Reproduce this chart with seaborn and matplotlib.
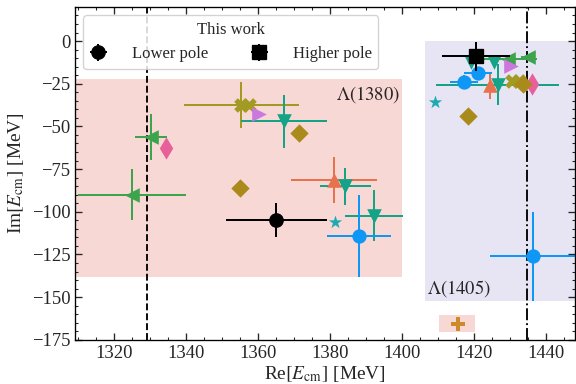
import numpy as np
import pandas as pd
import matplotlib
matplotlib.use("Agg")
import matplotlib.pyplot as plt
from matplotlib.patches import Rectangle
import seaborn as sns

# ---- data ----
# This work
lower_pole = dict(re=1365.0, im=-105.0, xerr=14.0, yerr=10.0)
higher_pole = dict(re=1420.5, im=-9.0, xerr=9.5, yerr=8.5)

# other determinations: (Re, Im, xerr, yerr)
green_re = [1325.0, 1330.2, 1429.5, 1435.0]
green_im = [-90.0, -56.0, -10.5, -9.5]
green_xe = [15.0, 4.5, 8.0, 2.0]
green_ye = [15.0, 13.5, 0.0, 1.5]

pink_re = [1334.2, 1436.2]
pink_im = [-62.5, -25.3]

olive_re = [1355.2, 1357.5, 1430.6, 1432.5]
olive_im = [-37.5, -37.5, -23.3, -23.3]
olive_xe = [16.0, 0.0, 0.0, 0.0]
olive_ye = [13.7, 0.0, 0.0, 0.0]

gold_re = [1355.0, 1371.2, 1418.3, 1433.7]
gold_im = [-86.0, -53.7, -43.9, -25.3]

purple_re = [1360.1, 1430.2]
purple_im = [-42.9, -14.5]

teal_re = [1367.2, 1384.2, 1392.2, 1419.1, 1425.4, 1426.5]
teal_im = [-47.0, -85.0, -102.2, -12.5, -12.0, -25.5]
teal_xe = [12.0, 7.0, 8.0, 0.0, 0.0, 17.0]
teal_ye = [15.6, 10.8, 15.0, 0.0, 0.0, 12.0]

red_re = [1381.0, 1424.4]
red_im = [-81.5, -26.0]
red_xe = [12.0, 0.0]
red_ye = [13.5, 8.0]

blue_re = [1388.0, 1421.1, 1417.2, 1436.4]
blue_im = [-114.0, -19.0, -23.9, -126.0]
blue_xe = [9.0, 4.0, 4.0, 12.0]
blue_ye = [24.0, 4.0, 4.0, 26.0]

cyan_re = [1381.2, 1409.2]
cyan_im = [-105.7, -35.7]

orange_re = [1415.6]
orange_im = [-166.0]
orange_box = [1410.3, 1420.3, -170.4, -160.2]

lam1380_box = [1300.0, 1400.0, -138.0, -22.0]
lam1405_box = [1406.4, 1460.0, -152.0, 0.0]
pi_sigma_thr = 1329.0
kbar_n_thr = 1434.6

# ---- style ----
sns.set_theme(style="ticks")
plt.rcParams["font.family"] = ["Liberation Serif", "DejaVu Serif"]
plt.rcParams["mathtext.fontset"] = "stix"
plt.rcParams["xtick.direction"] = "in"
plt.rcParams["ytick.direction"] = "in"
plt.rcParams["xtick.top"] = True
plt.rcParams["ytick.right"] = True
plt.rcParams["xtick.minor.visible"] = True
plt.rcParams["ytick.minor.visible"] = True

fig = plt.figure(figsize=(6, 4), dpi=96)
ax = fig.add_axes([0.130, 0.115, 0.868, 0.867])

# regions
ax.add_patch(Rectangle((lam1380_box[0], lam1380_box[2]), lam1380_box[1] - lam1380_box[0],
                       lam1380_box[3] - lam1380_box[2], color="#f8d8d4", lw=0, zorder=0))
ax.add_patch(Rectangle((lam1405_box[0], lam1405_box[2]), lam1405_box[1] - lam1405_box[0],
                       lam1405_box[3] - lam1405_box[2], color="#e7e5f4", lw=0, zorder=0))
ax.add_patch(Rectangle((orange_box[0], orange_box[2]), orange_box[1] - orange_box[0],
                       orange_box[3] - orange_box[2], color="#f8d8d4", lw=0, zorder=0))

ax.axvline(pi_sigma_thr, color="black", ls="--", lw=1.4, zorder=1)
ax.axvline(kbar_n_thr, color="black", ls="-.", lw=1.4, zorder=1)

groups = [
    (green_re, green_im, green_xe, green_ye, "#3da34d", "<", 120),
    (pink_re, pink_im, None, None, "#e8609a", "d", 140),
    (olive_re, olive_im, olive_xe, olive_ye, "#a29a22", "X", 120),
    (gold_re, gold_im, None, None, "#a98a1b", "D", 95),
    (purple_re, purple_im, None, None, "#cc77dd", ">", 120),
    (teal_re, teal_im, teal_xe, teal_ye, "#14a386", "v", 120),
    (red_re, red_im, red_xe, red_ye, "#e6734e", "^", 120),
    (blue_re, blue_im, blue_xe, blue_ye, "#0f97f5", "o", 115),
    (cyan_re, cyan_im, None, None, "#1eaab2", "*", 110),
    (orange_re, orange_im, None, None, "#cd8a2b", "P", 100),
]

for re_, im_, xe, ye, col, mk, s in groups:
    df = pd.DataFrame({"re": re_, "im": im_})
    if xe is not None:
        ax.errorbar(df["re"], df["im"], xerr=xe, yerr=ye, fmt="none",
                    ecolor=col, elinewidth=1.5, capsize=0, zorder=2)
    sns.scatterplot(data=df, x="re", y="im", color=col, marker=mk, s=s,
                    linewidth=0, ax=ax, zorder=3, legend=False)

# this work
h1 = ax.errorbar([lower_pole["re"]], [lower_pole["im"]], xerr=lower_pole["xerr"],
                 yerr=lower_pole["yerr"], fmt="o", color="black", ms=10,
                 elinewidth=1.5, capsize=0, zorder=4, label="Lower pole")
h2 = ax.errorbar([higher_pole["re"]], [higher_pole["im"]], xerr=higher_pole["xerr"],
                 yerr=higher_pole["yerr"], fmt="s", color="black", ms=10,
                 elinewidth=1.5, capsize=0, zorder=4, label="Higher pole")

ax.text(1399.5, -25, r"$\Lambda(1380)$", ha="right", va="top", fontsize=14)
ax.text(1406.8, -151, r"$\Lambda(1405)$", ha="left", va="bottom", fontsize=14)

leg = ax.legend(handles=[h1, h2], title="This work", ncol=2, loc="upper left",
                fontsize=12.5, title_fontsize=12.5, frameon=True, columnspacing=2.6,
                handlelength=1.0, handletextpad=1.5, borderpad=0.4, framealpha=0.85,
                borderaxespad=0.5, bbox_to_anchor=(0.0, 1.0))
leg.set_zorder(6)

ax.set_xlim(1309, 1448)
ax.set_ylim(-175, 20)
ax.set_xticks([1320, 1340, 1360, 1380, 1400, 1420, 1440])
ax.set_yticks([0, -25, -50, -75, -100, -125, -150, -175])
ax.set_xlabel(r"Re$[E_{\rm cm}]$ [MeV]", fontsize=14.5, labelpad=2)
ax.set_ylabel(r"Im$[E_{\rm cm}]$ [MeV]", fontsize=14.5, labelpad=4)
ax.tick_params(labelsize=14, which="major", length=5, width=1)
ax.tick_params(which="minor", length=2.5, width=0.8)
for sp in ax.spines.values():
    sp.set_linewidth(1.0)
    sp.set_color("black")

fig.savefig("out.png", dpi=96)
